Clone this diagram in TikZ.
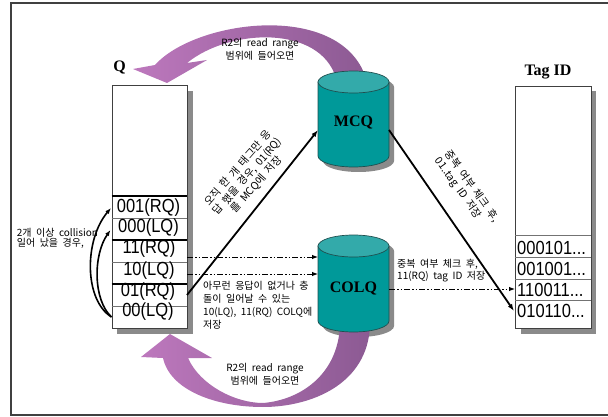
\documentclass[tikz,border=0pt]{standalone}
\usepackage{fontspec}
\setmainfont{Liberation Serif}
\newfontfamily\krfont[WordSpace=2]{Noto Sans CJK KR}
\newfontfamily\arfont{Liberation Sans}
\usetikzlibrary{arrows.meta}
\definecolor{tealbody}{HTML}{009999}
\definecolor{tealtop}{HTML}{33AAAA}
\definecolor{tealline}{HTML}{1F4F4F}
\definecolor{purL}{HTML}{BD78BD}
\definecolor{purR}{HTML}{8C5A93}
\definecolor{shadowgray}{HTML}{8A8A8A}
\definecolor{framegray}{HTML}{404040}
\newcommand\tallt[1]{\scalebox{1}[1.15]{#1}}
\newcommand\cylshadow[3]{%
  \fill[shadowgray] ({#1-30.5},{#2-5}) -- ({#1-30.5},{#3-5})
    arc[start angle=180,end angle=360,x radius=35.5pt,y radius=11pt]
    -- ({#1+40.5},{#2-5})
    arc[start angle=0,end angle=180,x radius=35.5pt,y radius=11pt] -- cycle;}
\newcommand\cylbody[3]{%
  \filldraw[fill=tealbody, draw=tealline, line width=0.7pt] ({#1-35.5},{#2}) -- ({#1-35.5},{#3})
    arc[start angle=180,end angle=360,x radius=35.5pt,y radius=11pt]
    -- ({#1+35.5},{#2}) -- cycle;
  \filldraw[fill=tealtop, draw=tealline, line width=0.7pt] (#1,#2) ellipse[x radius=35.5pt,y radius=11pt];}
\begin{document}
\begin{tikzpicture}[x=1pt,y=1pt,
  cellt/.style={font={\arfont\fontsize{16.5}{18}\selectfont}, inner sep=0pt},
  kr/.style={font={\krfont\fontsize{10}{12.7}\selectfont}, inner sep=0pt},
  krrot/.style={font={\krfont\fontsize{10.5}{12.2}\selectfont}, inner sep=0pt},
  titlet/.style={font={\bfseries\fontsize{16}{18}\selectfont}, inner sep=0pt},
  thickrow/.style={line width=2.6pt, draw=black},
  thinrow/.style={line width=0.7pt, draw=black!55},
  boxline/.style={draw=black!75, line width=0.8pt, fill=white, inner sep=0pt, anchor=north west},
  blackarrow/.style={line width=1.8pt, -{Latex[length=7pt,width=5pt]}},
  curvearrow/.style={line width=1.6pt, -{Latex[length=6pt,width=4.5pt]}},
  dasharrow/.style={line width=1pt, dash pattern=on 6pt off 2pt on 1.5pt off 2pt on 1.5pt off 2pt, -{Latex[length=6pt,width=4.5pt]}},
  ribbon/.style={left color=purL, right color=purR, draw=none},
]
\useasboundingbox (0,0) rectangle (608,-417);
% frame
\draw[framegray, line width=1.2pt] (608,-3) -- (11,-3) -- (11,-415) -- (608,-415);

% shadows
\fill[shadowgray] (117,-91) rectangle (192.5,-333.5);
\fill[shadowgray] (520.5,-91) rectangle (596,-333.5);
\cylshadow{353.5}{-82}{-156}
\cylshadow{353.5}{-246}{-321}

% purple ribbons
\shade[ribbon] (167,-83) -- (133,-69) -- (155,-65)
  .. controls (195,-20) and (340,0) .. (366,-78) -- (336,-78)
  .. controls (320,-25) and (230,-28) .. (187,-63) -- (207,-60) -- cycle;
\shade[ribbon] (170,-334) -- (212,-358) -- (188,-358)
  .. controls (200,-385) and (235,-403) .. (263,-403)
  .. controls (300,-400) and (338,-375) .. (340,-325) -- (370,-325)
  .. controls (368,-385) and (310,-407) .. (263,-407)
  .. controls (215,-407) and (170,-390) .. (163,-358) -- (141,-357) -- cycle;

% cylinders
\cylbody{353.5}{-82}{-156}
\cylbody{353.5}{-246}{-321}
\node[titlet] (mcq) at (353.5,-123) {MCQ};
\node[titlet] (colq) at (353.5,-288) {COLQ};

% Q box
\node[boxline, minimum width=75.3pt, minimum height=243pt] (qbox) at (111.7,-85) {};
\draw[thinrow] (111.7,-218) -- (187,-218);
\draw[thinrow] (111.7,-262) -- (187,-262);
\draw[thinrow] (111.7,-306) -- (187,-306);
\draw[thickrow] (111.7,-196) -- (187,-196);
\draw[thickrow] (111.7,-240) -- (187,-240);
\draw[thickrow] (111.7,-284) -- (187,-284);
\node[cellt] (q001) at (148.5,-207.5) {\tallt{001(RQ)}};
\node[cellt] (q000) at (148.5,-228) {\tallt{000(LQ)}};
\node[cellt] (q11) at (149,-249) {\tallt{11(RQ)}};
\node[cellt] (q10) at (149,-271) {\tallt{10(LQ)}};
\node[cellt] (q01) at (148,-292) {\tallt{01(RQ)}};
\node[cellt] (q00) at (148,-312) {\tallt{00(LQ)}};
\node[titlet] (qlabel) at (119.5,-68) {Q};

% Tag ID box
\node[boxline, minimum width=75.7pt, minimum height=242.3pt] (tagbox) at (515,-85.7) {};
\draw[thinrow] (515,-235) -- (590.7,-235);
\draw[thinrow] (515,-257) -- (590.7,-257);
\draw[thinrow] (515,-279) -- (590.7,-279);
\draw[thinrow] (515,-300) -- (590.7,-300);
\node[cellt, anchor=west] (t1) at (517,-248) {\tallt{000101...}};
\node[cellt, anchor=west] (t2) at (517,-269) {\tallt{001001...}};
\node[cellt, anchor=west] (t3) at (517,-290) {\tallt{110011...}};
\node[cellt, anchor=west] (t4) at (517,-311) {\tallt{010110...}};
\node[titlet] (taglabel) at (548,-72) {Tag ID};

% connector end points
\coordinate (q01e) at (187,-295);
\coordinate (mcqw) at (318,-130);
\coordinate (mcqe) at (389,-130);
\coordinate (t4w) at (514,-311);
\coordinate (q11e) at (187,-257);
\coordinate (colqw1) at (318,-257);
\coordinate (q10e) at (187,-274);
\coordinate (colqw2) at (318,-274);
\coordinate (colqe) at (389,-289);
\coordinate (t3w) at (515,-289);
\coordinate (q00w) at (111.5,-317);
\coordinate (q001w) at (111,-208);
\coordinate (q000w) at (110.5,-230);

% connectors
\draw[blackarrow] (q01e) -- (mcqw);
\draw[blackarrow] (mcqe) -- (t4w);
\draw[dasharrow] (q11e) -- (colqw1);
\draw[dasharrow] (q10e) -- (colqw2);
\draw[dasharrow] (colqe) -- (t3w);
\draw[curvearrow] (q00w) .. controls (84,-300) and (84,-240) .. (q001w);
\draw[curvearrow] (q00w) .. controls (93,-300) and (93,-255) .. (q000w);

% labels
\node[kr, align=center] (toplbl) at (260,-49.5) {R2의 read range\\범위에 들어오면};
\node[kr, align=center] (botlbl) at (265,-374) {R2의 read range\\범위에 들어오면};
\node[kr, align=left, anchor=west, font={\krfont\fontsize{10}{10}\selectfont}] (leftlbl) at (16.7,-238) {2개 이상 collision\\일어 났을 경우,};
\node[kr, align=left, anchor=north west] (colqlbl) at (203,-281.5) {아무런 응답이 없거나 충\\돌이 일어날 수 있는\\10(LQ), 11(RQ) COLQ에\\저장};
\node[kr, align=left, anchor=north west] (tagchk) at (397,-258.6) {중복 여부 체크 후,\\11(RQ) tag ID 저장};
\node[krrot, align=center, rotate=49] (mcqlbl) at (247.4,-176.5) {오직 한 개 태그만 응\\답 했을 경우, 01(RQ)\\를 MCQ에 저장};
\node[krrot, align=left, rotate=-54.5] (mcqchk) at (467,-190) {중복 여부 체크 후,\\01..tag ID 저장};
\end{tikzpicture}
\end{document}
